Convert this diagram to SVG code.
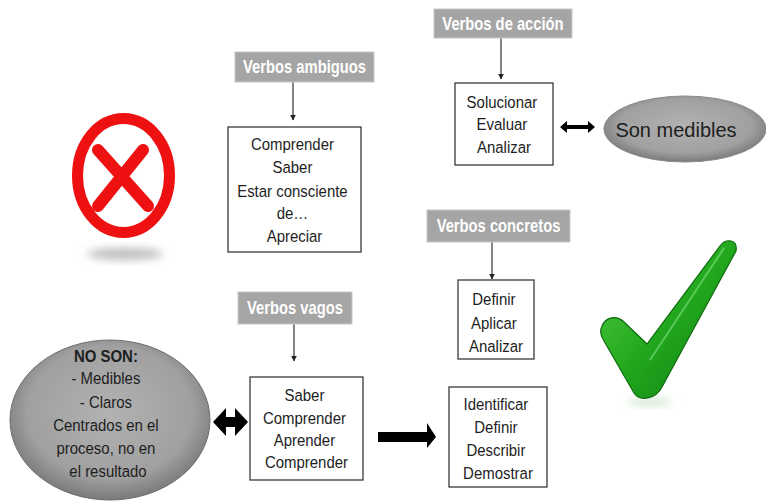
<svg xmlns="http://www.w3.org/2000/svg" width="766" height="501" viewBox="0 0 766 501">
<defs>
<style>
.lbl{fill:#a5a5a5;stroke:#c8c8c8;stroke-width:1}
.lt{font-family:"Liberation Sans",Arial,sans-serif;font-size:18px;font-weight:bold;fill:#ffffff;text-anchor:middle}
.box{fill:#ffffff;stroke:#3a3a3a;stroke-width:1.3}
.bt{font-family:"Liberation Sans",Arial,sans-serif;font-size:17px;fill:#1e1e1e;text-anchor:middle}
.thin{stroke:#333;stroke-width:1.2;fill:none}
.thick{fill:#000}
</style>
<marker id="ah" viewBox="0 0 10 10" refX="9" refY="5" markerWidth="6" markerHeight="6" orient="auto" markerUnits="userSpaceOnUse">
<path d="M0,0 L10,5 L0,10 Z" fill="#222"/>
</marker>
<radialGradient id="gray" cx="50%" cy="45%" r="55%">
<stop offset="0" stop-color="#b2b2b2"/>
<stop offset="0.75" stop-color="#a0a0a0"/>
<stop offset="1" stop-color="#7a7a7a"/>
</radialGradient>
<linearGradient id="green" x1="0" y1="0" x2="1" y2="1">
<stop offset="0" stop-color="#55cc44"/>
<stop offset="0.5" stop-color="#22a81e"/>
<stop offset="1" stop-color="#0f7a10"/>
</linearGradient>
<filter id="blur" x="-50%" y="-50%" width="200%" height="200%"><feGaussianBlur stdDeviation="4"/></filter>
</defs>
<rect width="766" height="501" fill="#ffffff"/>

<g id="icon-x">
<ellipse cx="125" cy="254" rx="38" ry="6" fill="#bdbdbd" filter="url(#blur)"/>
<ellipse cx="123.5" cy="175.5" rx="46" ry="57" fill="none" stroke="#ee1111" stroke-width="11"/>
<path d="M98,150 L148,206 M143,150 L98,206" stroke="#ee1111" stroke-width="12" stroke-linecap="round" fill="none"/>
</g>

<g id="icon-check">
<ellipse cx="650" cy="402" rx="22" ry="4" fill="#d0e8d0" filter="url(#blur)"/>
<path d="M602,326 C606,317 616,315 623,321 L647,344 L720,246 C726,238 738,239 736,251 L662,387 C656,399 640,402 634,393 L604,341 C600,335 600,330 602,326 Z" fill="url(#green)" stroke="#0d6b0d" stroke-width="1.2"/>
<path d="M724,248 L650,360" stroke="#7fe07f" stroke-width="2" opacity="0.6"/>
</g>

<g id="connectors">
<line class="thin" x1="293" y1="82" x2="293" y2="120" marker-end="url(#ah)"/>
<line class="thin" x1="501" y1="38" x2="501" y2="79" marker-end="url(#ah)"/>
<line class="thin" x1="492" y1="242" x2="492" y2="279" marker-end="url(#ah)"/>
<line class="thin" x1="294" y1="324" x2="294" y2="361" marker-end="url(#ah)"/>
<path class="thick" d="M560,127 L567,121 L567,125 L588,125 L588,121 L595,127 L588,133 L588,129 L567,129 L567,133 Z"/>
<path class="thick" d="M213,422 L226,408 L226,417 L235,417 L235,408 L248,422 L235,436 L235,427 L226,427 L226,436 Z"/>
<path class="thick" d="M378,432 L427,432 L427,423 L436,437 L427,448 L427,442 L378,442 Z"/>
</g>

<g id="label-ambiguos">
<rect class="lbl" x="235" y="52" width="139" height="30"/>
<text class="lt" transform="translate(304.5 0) scale(0.82 1)"><tspan x="0" y="73">Verbos ambiguos</tspan></text>
</g>
<g id="box-ambiguos">
<rect class="box" x="228" y="127" width="133" height="125"/>
<text class="bt" transform="translate(294.5 0) scale(0.88 1)">
<tspan x="0" y="150">Comprender</tspan>
<tspan x="0" y="173">Saber</tspan>
<tspan x="0" y="197">Estar consciente</tspan>
<tspan x="0" y="219">de…</tspan>
<tspan x="0" y="242">Apreciar</tspan>
</text>
</g>

<g id="label-accion">
<rect class="lbl" x="434" y="9" width="138" height="29"/>
<text class="lt" transform="translate(503 0) scale(0.82 1)"><tspan x="0" y="30">Verbos de acción</tspan></text>
</g>
<g id="box-accion">
<rect class="box" x="455" y="83" width="98" height="82"/>
<text class="bt" transform="translate(504 0) scale(0.88 1)">
<tspan x="0" y="108">Solucionar</tspan>
<tspan x="0" y="130">Evaluar</tspan>
<tspan x="0" y="153">Analizar</tspan>
</text>
</g>

<g id="son-medibles">
<ellipse cx="685" cy="129" rx="81" ry="33" fill="url(#gray)" stroke="#8a8a8a" stroke-width="1"/>
<text class="bt" style="font-size:20px" x="676" y="137">Son medibles</text>
</g>

<g id="label-concretos">
<rect class="lbl" x="427" y="210" width="143" height="32"/>
<text class="lt" transform="translate(498.5 0) scale(0.82 1)"><tspan x="0" y="232">Verbos concretos</tspan></text>
</g>
<g id="box-concretos">
<rect class="box" x="458" y="280" width="76" height="79"/>
<text class="bt" transform="translate(496 0) scale(0.88 1)">
<tspan x="0" y="305">Definir</tspan>
<tspan x="0" y="329">Aplicar</tspan>
<tspan x="0" y="352">Analizar</tspan>
</text>
</g>

<g id="label-vagos">
<rect class="lbl" x="238" y="292" width="114" height="32"/>
<text class="lt" transform="translate(295 0) scale(0.82 1)"><tspan x="0" y="314">Verbos vagos</tspan></text>
</g>
<g id="box-vagos">
<rect class="box" x="250" y="377" width="113" height="103"/>
<text class="bt" transform="translate(306.5 0) scale(0.88 1)">
<tspan x="0" y="401">Saber</tspan>
<tspan x="0" y="424">Comprender</tspan>
<tspan x="0" y="446">Aprender</tspan>
<tspan x="0" y="468">Comprender</tspan>
</text>
</g>

<g id="no-son">
<ellipse cx="110" cy="420" rx="100" ry="80" fill="url(#gray)" stroke="#6e6e6e" stroke-width="1"/>
<text class="bt" transform="translate(108 0) scale(0.88 1)">
<tspan x="0" y="362" font-weight="bold">NO SON:</tspan>
<tspan x="0" y="384">- Medibles</tspan>
<tspan x="0" y="408">- Claros</tspan>
<tspan x="0" y="431">Centrados en  el</tspan>
<tspan x="0" y="454">proceso, no en</tspan>
<tspan x="0" y="477">el resultado</tspan>
</text>
</g>

<g id="box-identificar">
<rect class="box" x="449" y="387" width="98" height="100"/>
<text class="bt" transform="translate(498 0) scale(0.88 1)">
<tspan x="0" y="410">Identificar</tspan>
<tspan x="0" y="433">Definir</tspan>
<tspan x="0" y="456">Describir</tspan>
<tspan x="0" y="479">Demostrar</tspan>
</text>
</g>
</svg>
